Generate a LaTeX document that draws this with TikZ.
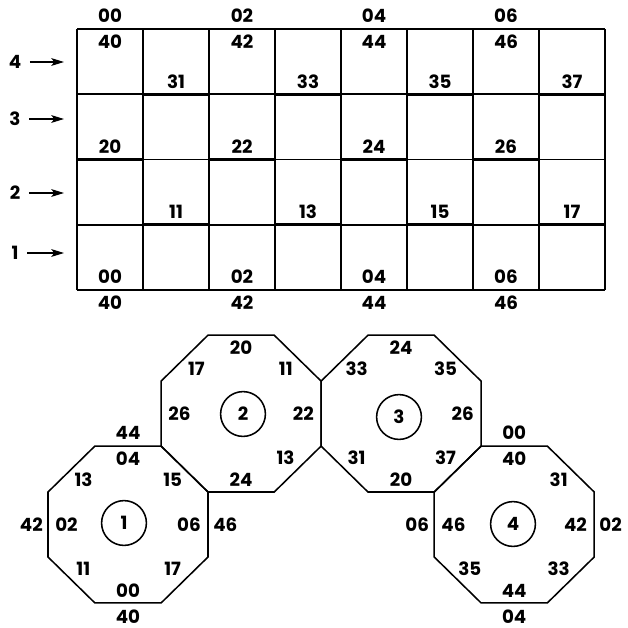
\documentclass[tikz,border=0pt]{standalone}
\usepackage{fontspec}
\setmainfont{Poppins}
\usetikzlibrary{arrows.meta}

\begin{document}
\begin{tikzpicture}[x=0.025cm, y=0.025cm,
    gridline/.style={line width=1.1pt},
    thickseg/.style={line width=2pt},
    octline/.style={line width=1.1pt, line join=miter, yscale=0.98},
    num/.style={font=\fontsize{13}{15}\selectfont\bfseries, inner sep=0pt},
    ring/.style={num, circle, draw, line width=1.1pt, minimum size=1.12cm},
    rowarrow/.style={line width=1pt, -{Stealth[length=9pt, width=5.5pt, inset=2pt]}, shorten <=6pt}]
  \useasboundingbox (0,0) rectangle (628,627);
  % memory grid: 8 columns, 4 rows
  \foreach \i in {0,...,8}
    \draw[gridline] ({77+66*\i},337) -- ({77+66*\i},598);
  \foreach \j in {0,...,4}
    \draw[gridline] (77,{337+65.25*\j}) -- (605,{337+65.25*\j});
  % heavy segments, alternating columns
  \foreach \j/\s in {0/0,1/1,2/0,3/1,4/0}
    \foreach \k in {0,2,4,6}
      \draw[thickseg] ({77+66*(\k+\s)},{337+65.25*\j}) -- ++(66,0);
  % edge labels of the grid
  \foreach \k in {0,2,4,6} {
    \node[num] (top0\k) at ({110+66*\k},611) {0\k};
    \node[num] (top4\k) at ({110+66*\k},585) {4\k};
    \node[num] (mid2\k) at ({110+66*\k},{337+65.25*2+13}) {2\k};
    \node[num] (bot0\k) at ({110+66*\k},350) {0\k};
    \node[num] (bot4\k) at ({110+66*\k},324) {4\k};
  }
  \foreach \k in {1,3,5,7} {
    \node[num] (mid3\k) at ({110+66*\k},{337+65.25*3+13}) {3\k};
    \node[num] (mid1\k) at ({110+66*\k},{337+65.25+13}) {1\k};
  }
  % row pointers
  \foreach \r/\yy in {4/565,3/508,2/434,1/374} {
    \node[num] (row\r) at (15,\yy) {\r};
    \coordinate (rowend\r) at (64,\yy);
    \draw[rowarrow] (row\r) -- (rowend\r);
  }
  % the four octagons
  \coordinate (o1) at (128,102.5);
  \coordinate (o2) at (241.1,213.4);
  \coordinate (o3) at (401.1,213.4);
  \coordinate (o4) at (514.2,102.5);
  \foreach \o in {1,...,4}
    \draw[octline] (o\o) +(22.5:86.6) -- +(67.5:86.6) -- +(112.5:86.6) -- +(157.5:86.6)
      -- +(202.5:86.6) -- +(247.5:86.6) -- +(292.5:86.6) -- +(337.5:86.6) -- cycle;
  \node[ring] (c1) at (124,104) {1};
  \node[ring] (c2) at (243,213) {2};
  \node[ring] (c3) at (399,210) {3};
  \node[ring] (c4) at (513,103) {4};
  % labels inside the octagons
  \foreach \o/\a/\t in {1/90/04,1/45/15,1/135/13,1/180/02,1/0/06,1/225/11,1/315/17,1/270/00,
      2/90/20,2/135/17,2/45/11,2/180/26,2/0/22,2/315/13,2/270/24,
      3/90/24,3/135/33,3/45/35,3/0/26,3/225/31,3/315/37,3/270/20,
      4/90/40,4/45/31,4/0/42,4/180/46,4/225/35,4/315/33,4/270/44}
    \path (o\o) ++(\a:73) node[num, anchor=\a] (in\o-\a) {\t};
  % labels outside the octagons
  \foreach \o/\a/\b/\t in {1/90/south/44,1/180/east/42,1/0/west/46,1/270/north/40,
      4/90/south/00,4/0/west/02,4/180/east/06,4/270/north/04}
    \path (o\o) ++(\a:85) node[num, anchor=\b] (out\o-\a) {\t};
\end{tikzpicture}
\end{document}
